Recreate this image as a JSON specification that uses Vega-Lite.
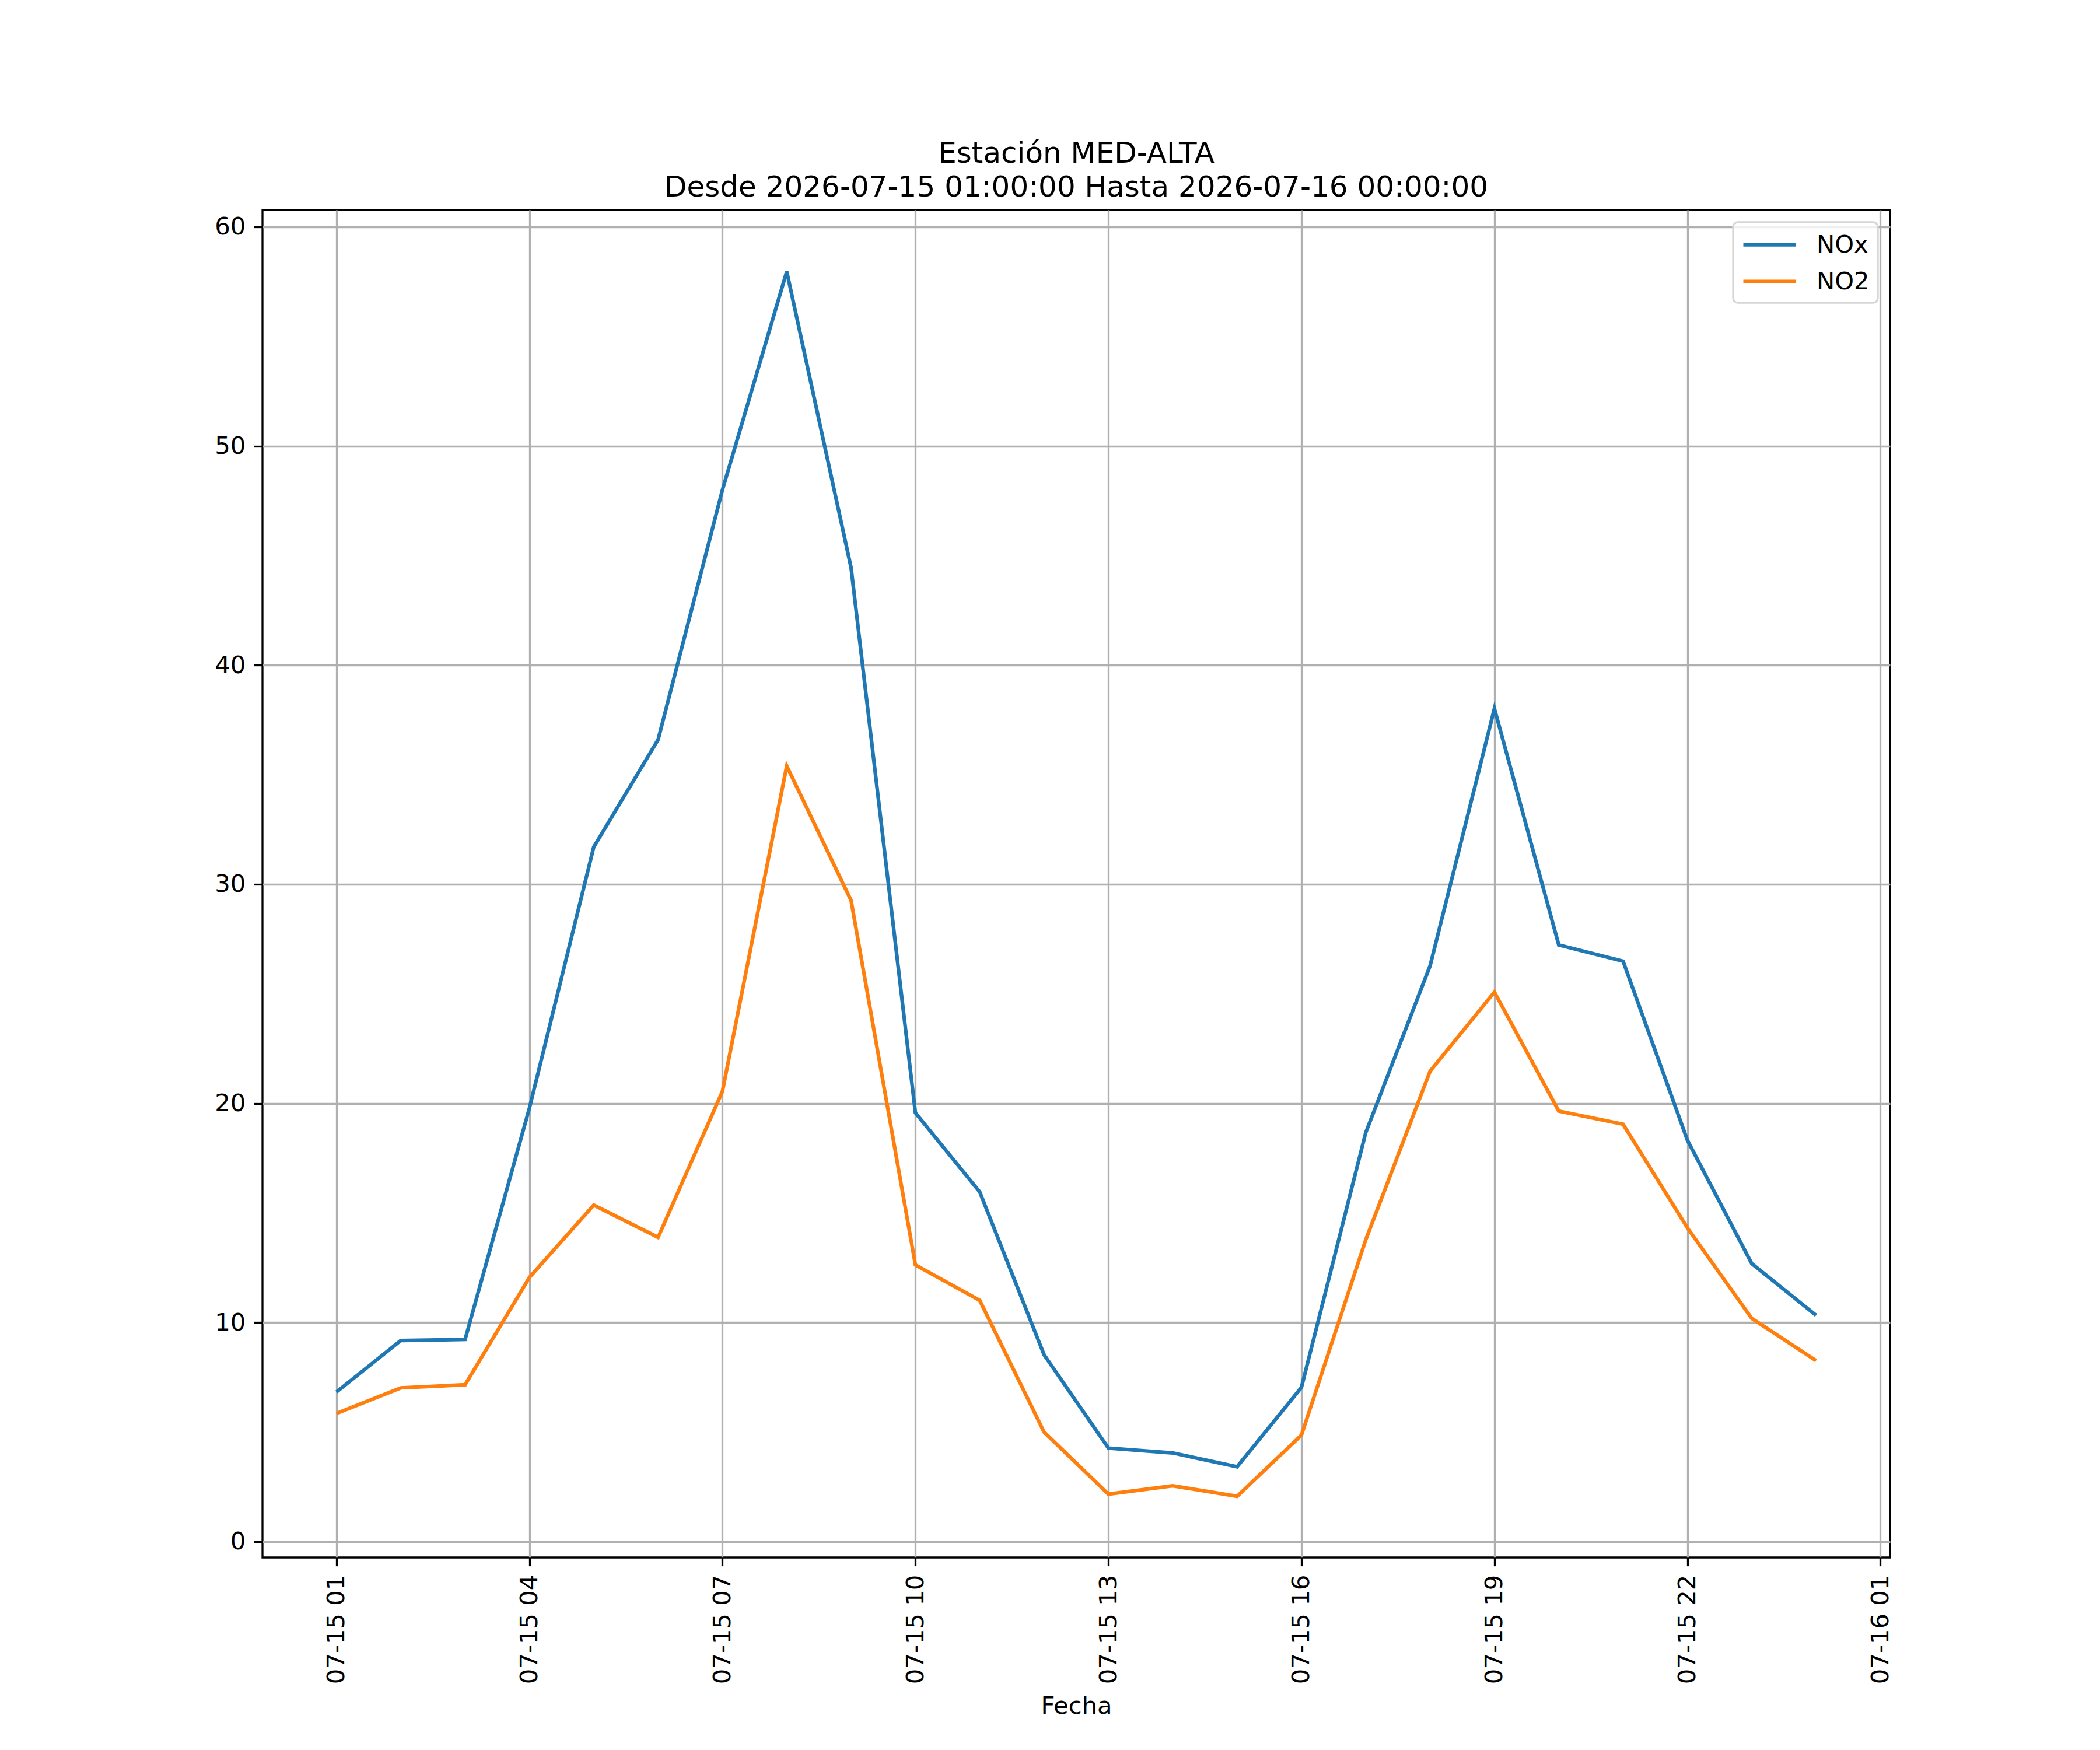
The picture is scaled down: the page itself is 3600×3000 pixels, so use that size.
{
  "$schema": "https://vega.github.io/schema/vega-lite/v6.json",
  "autosize": {"type": "none"},
  "width": 2790,
  "height": 2310,
  "padding": {"left": 450, "top": 360, "right": 360, "bottom": 330},
  "background": "white",
  "title": {
    "text": ["Estación MED-ALTA", "Desde 2026-07-15 01:00:00 Hasta 2026-07-16 00:00:00"],
    "font": "DejaVu Sans",
    "fontSize": 50,
    "fontWeight": "normal",
    "color": "black",
    "anchor": "middle",
    "lineHeight": 58,
    "offset": 13
  },
  "data": {
    "values": [
      {"fecha": "2026-07-15T01:00:00", "serie": "NOx", "valor": 6.83},
      {"fecha": "2026-07-15T02:00:00", "serie": "NOx", "valor": 9.18},
      {"fecha": "2026-07-15T03:00:00", "serie": "NOx", "valor": 9.23},
      {"fecha": "2026-07-15T04:00:00", "serie": "NOx", "valor": 19.79},
      {"fecha": "2026-07-15T05:00:00", "serie": "NOx", "valor": 31.7},
      {"fecha": "2026-07-15T06:00:00", "serie": "NOx", "valor": 36.6},
      {"fecha": "2026-07-15T07:00:00", "serie": "NOx", "valor": 48.0},
      {"fecha": "2026-07-15T08:00:00", "serie": "NOx", "valor": 57.96},
      {"fecha": "2026-07-15T09:00:00", "serie": "NOx", "valor": 44.45},
      {"fecha": "2026-07-15T10:00:00", "serie": "NOx", "valor": 19.57},
      {"fecha": "2026-07-15T11:00:00", "serie": "NOx", "valor": 15.96},
      {"fecha": "2026-07-15T12:00:00", "serie": "NOx", "valor": 8.53},
      {"fecha": "2026-07-15T13:00:00", "serie": "NOx", "valor": 4.27},
      {"fecha": "2026-07-15T14:00:00", "serie": "NOx", "valor": 4.05},
      {"fecha": "2026-07-15T15:00:00", "serie": "NOx", "valor": 3.42},
      {"fecha": "2026-07-15T16:00:00", "serie": "NOx", "valor": 7.04},
      {"fecha": "2026-07-15T17:00:00", "serie": "NOx", "valor": 18.67},
      {"fecha": "2026-07-15T18:00:00", "serie": "NOx", "valor": 26.28},
      {"fecha": "2026-07-15T19:00:00", "serie": "NOx", "valor": 38.02},
      {"fecha": "2026-07-15T20:00:00", "serie": "NOx", "valor": 27.23},
      {"fecha": "2026-07-15T21:00:00", "serie": "NOx", "valor": 26.49},
      {"fecha": "2026-07-15T22:00:00", "serie": "NOx", "valor": 18.32},
      {"fecha": "2026-07-15T23:00:00", "serie": "NOx", "valor": 12.69},
      {"fecha": "2026-07-16T00:00:00", "serie": "NOx", "valor": 10.33},
      {"fecha": "2026-07-15T01:00:00", "serie": "NO2", "valor": 5.85},
      {"fecha": "2026-07-15T02:00:00", "serie": "NO2", "valor": 7.02},
      {"fecha": "2026-07-15T03:00:00", "serie": "NO2", "valor": 7.16},
      {"fecha": "2026-07-15T04:00:00", "serie": "NO2", "valor": 12.06},
      {"fecha": "2026-07-15T05:00:00", "serie": "NO2", "valor": 15.36},
      {"fecha": "2026-07-15T06:00:00", "serie": "NO2", "valor": 13.89},
      {"fecha": "2026-07-15T07:00:00", "serie": "NO2", "valor": 20.55},
      {"fecha": "2026-07-15T08:00:00", "serie": "NO2", "valor": 35.4},
      {"fecha": "2026-07-15T09:00:00", "serie": "NO2", "valor": 29.26},
      {"fecha": "2026-07-15T10:00:00", "serie": "NO2", "valor": 12.63},
      {"fecha": "2026-07-15T11:00:00", "serie": "NO2", "valor": 11.01},
      {"fecha": "2026-07-15T12:00:00", "serie": "NO2", "valor": 5.0},
      {"fecha": "2026-07-15T13:00:00", "serie": "NO2", "valor": 2.17},
      {"fecha": "2026-07-15T14:00:00", "serie": "NO2", "valor": 2.55},
      {"fecha": "2026-07-15T15:00:00", "serie": "NO2", "valor": 2.07},
      {"fecha": "2026-07-15T16:00:00", "serie": "NO2", "valor": 4.86},
      {"fecha": "2026-07-15T17:00:00", "serie": "NO2", "valor": 13.78},
      {"fecha": "2026-07-15T18:00:00", "serie": "NO2", "valor": 21.47},
      {"fecha": "2026-07-15T19:00:00", "serie": "NO2", "valor": 25.08},
      {"fecha": "2026-07-15T20:00:00", "serie": "NO2", "valor": 19.65},
      {"fecha": "2026-07-15T21:00:00", "serie": "NO2", "valor": 19.05},
      {"fecha": "2026-07-15T22:00:00", "serie": "NO2", "valor": 14.32},
      {"fecha": "2026-07-15T23:00:00", "serie": "NO2", "valor": 10.19},
      {"fecha": "2026-07-16T00:00:00", "serie": "NO2", "valor": 8.26}
    ]
  },
  "mark": {"type": "line", "strokeWidth": 6.25, "clip": true},
  "encoding": {
    "x": {
      "field": "fecha",
      "type": "temporal",
      "title": "Fecha",
      "scale": {
        "domain": [
          {"year": 2026, "month": 7, "date": 14, "hours": 23, "minutes": 51},
          {"year": 2026, "month": 7, "date": 16, "hours": 1, "minutes": 9}
        ],
        "nice": false
      },
      "axis": {
        "values": [
          {"year": 2026, "month": 7, "date": 15, "hours": 1},
          {"year": 2026, "month": 7, "date": 15, "hours": 4},
          {"year": 2026, "month": 7, "date": 15, "hours": 7},
          {"year": 2026, "month": 7, "date": 15, "hours": 10},
          {"year": 2026, "month": 7, "date": 15, "hours": 13},
          {"year": 2026, "month": 7, "date": 15, "hours": 16},
          {"year": 2026, "month": 7, "date": 15, "hours": 19},
          {"year": 2026, "month": 7, "date": 15, "hours": 22},
          {"year": 2026, "month": 7, "date": 16, "hours": 1}
        ],
        "format": "%m-%d %H",
        "labelAngle": 270,
        "labelAlign": "right",
        "labelBaseline": "middle",
        "labelLimit": 500,
        "titlePadding": 34
      }
    },
    "y": {
      "field": "valor",
      "type": "quantitative",
      "title": null,
      "scale": {"domain": [-0.72, 60.77], "nice": false, "zero": false},
      "axis": {"values": [0, 10, 20, 30, 40, 50, 60]}
    },
    "color": {
      "field": "serie",
      "type": "nominal",
      "scale": {"domain": ["NOx", "NO2"], "range": ["#1f77b4", "#ff7f0e"]},
      "legend": {
        "title": null,
        "orient": "top-right",
        "offset": 21,
        "symbolType": "M-1,0H3.29",
        "symbolSize": 1764,
        "symbolStrokeWidth": 6.25,
        "labelFontSize": 41.7,
        "labelFont": "DejaVu Sans",
        "labelColor": "black",
        "labelOffset": 80,
        "rowPadding": 16,
        "padding": 14,
        "strokeColor": "#d6d6d6",
        "cornerRadius": 8,
        "fillColor": "rgba(255,255,255,0.8)"
      }
    }
  },
  "config": {
    "font": "DejaVu Sans",
    "view": {"stroke": "black", "strokeWidth": 3.3},
    "legend": {"strokeWidth": 3.3},
    "axis": {
      "domain": false,
      "grid": true,
      "gridColor": "#b0b0b0",
      "gridWidth": 3.3,
      "ticks": true,
      "tickColor": "black",
      "tickSize": 14.6,
      "tickWidth": 3.3,
      "labelFont": "DejaVu Sans",
      "labelFontSize": 41.7,
      "labelColor": "black",
      "labelPadding": 14.6,
      "labelOverlap": false,
      "labelFlush": false,
      "titleFont": "DejaVu Sans",
      "titleFontSize": 41.7,
      "titleFontWeight": "normal",
      "titleColor": "black"
    }
  }
}
